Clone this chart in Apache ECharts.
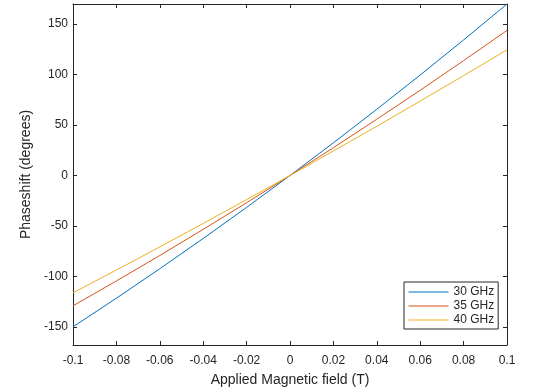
<!DOCTYPE html>
<html>
<head>
<meta charset="utf-8">
<script src="https://cdn.jsdelivr.net/npm/echarts@6/dist/echarts.min.js"></script>
<style>
  html, body { margin: 0; padding: 0; background: #fff; }
  #main { width: 560px; height: 392px; }
</style>
</head>
<body>
<div id="main"></div>
<script>
// applied field (T)
var field = [-0.1, -0.08, -0.06, -0.04, -0.02, 0, 0.02, 0.04, 0.06, 0.08, 0.1];
// phaseshift (degrees)
var ghz30 = [-150, -121.6, -92.4, -62.4, -31.6, 0, 32.4, 65.6, 99.6, 134.4, 170];
var ghz35 = [-129.2, -104.5, -79.3, -53.4, -27.0, 0, 27.6, 55.8, 84.5, 113.9, 143.8];
var ghz40 = [-116.3, -93.7, -70.8, -47.5, -23.9, 0, 24.3, 48.8, 73.8, 99.0, 124.6];
var seriesNames = ['30 GHz', '35 GHz', '40 GHz'];
var yTicks = [-150, -100, -50, 0, 50, 100, 150];

function pairs(ys) {
	var out = [];
	for (var i = 0; i < field.length; i++) {
		out.push([field[i], ys[i]]);
	}
	return out;
}

var axisCol = '#262626';
var font = 'Liberation Sans, Arial, sans-serif';

var myChart = echarts.init(document.getElementById('main'));

function lineSeries(name, ys, col) {
	return {
		name: name,
		type: 'line',
		data: pairs(ys),
		symbol: 'none',
		smooth: false,
		color: col,
		lineStyle: { width: 1, color: col },
		xAxisIndex: 0,
		yAxisIndex: 0
	};
}

var option = {
	animation: false,
	backgroundColor: '#fff',
	grid: { left: 73, right: 53, top: 4, bottom: 47, containLabel: false },
	legend: {
		orient: 'vertical',
		left: 404,
		top: 282,
		data: seriesNames,
		itemWidth: 40,
		itemHeight: 14,
		itemGap: 2,
		padding: [4, 4, 3, 4],
		backgroundColor: '#fff',
		borderColor: axisCol,
		borderWidth: 1,
		borderRadius: 0,
		itemStyle: { opacity: 0 },
		lineStyle: { width: 1 },
		textStyle: { color: axisCol, fontSize: 12, fontFamily: font }
	},
	xAxis: [{
		type: 'value',
		min: -0.1,
		max: 0.1,
		interval: 0.02,
		name: 'Applied Magnetic field (T)',
		nameLocation: 'middle',
		nameGap: 28,
		nameTextStyle: { color: axisCol, fontSize: 14, fontFamily: font },
		axisLine: { onZero: false, lineStyle: { color: axisCol, width: 1 } },
		axisTick: { inside: true, length: 4, lineStyle: { color: axisCol } },
		axisLabel: {
			color: axisCol, fontSize: 12, fontFamily: font, margin: 10,
			formatter: function (v) { return String(parseFloat(v.toFixed(2))); }
		},
		splitLine: { show: false }
	}, {
		type: 'value',
		position: 'top',
		min: -0.1,
		max: 0.1,
		interval: 0.02,
		axisLine: { onZero: false, lineStyle: { color: axisCol, width: 1 } },
		axisTick: { inside: true, length: 4, lineStyle: { color: axisCol } },
		axisLabel: { show: false },
		splitLine: { show: false }
	}],
	yAxis: [{
		type: 'value',
		min: -168,
		max: 170,
		name: 'Phaseshift (degrees)',
		nameLocation: 'middle',
		nameGap: 31,
		nameTextStyle: { color: axisCol, fontSize: 14, fontFamily: font },
		axisLine: { onZero: false, lineStyle: { color: axisCol, width: 1 } },
		axisTick: { inside: true, length: 4, customValues: yTicks, lineStyle: { color: axisCol } },
		axisLabel: { color: axisCol, fontSize: 12, fontFamily: font, margin: 5, customValues: yTicks },
		splitLine: { show: false }
	}, {
		type: 'value',
		position: 'right',
		min: -168,
		max: 170,
		axisLine: { show: true, onZero: false, lineStyle: { color: axisCol, width: 1 } },
		axisTick: { show: true, inside: true, length: 4, customValues: yTicks, lineStyle: { color: axisCol } },
		axisLabel: { show: false },
		splitLine: { show: false }
	}],
	series: [
		lineSeries(seriesNames[0], ghz30, '#0072BD'),
		lineSeries(seriesNames[1], ghz35, '#D95319'),
		lineSeries(seriesNames[2], ghz40, '#EDB120')
	]
};
myChart.setOption(option);
</script>
</body>
</html>
